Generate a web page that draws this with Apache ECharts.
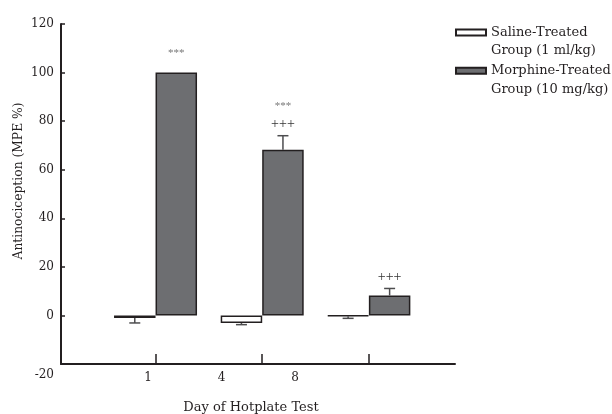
<!DOCTYPE html>
<html>
<head>
<meta charset="utf-8">
<script src="https://cdn.jsdelivr.net/npm/echarts@6/dist/echarts.min.js"></script>
<style>html,body{margin:0;padding:0;background:#fff;}#c{width:612px;height:414px;}</style>
</head>
<body>
<div id="c"></div>
<script>
// ---- data ----
var categories = ['1', '4', '8'];           // groups (days)
var dayTickLabels = ['1', '4', '8'];        // x tick labels as printed
var salineMean = [-1.1, -3.1, -0.3];
var salineErr  = [2.0, 0.7, 0.9];
var morphineMean = [100, 68.2, 8.2];
var morphineErr  = [0, 5.8, 2.9];
var starMarks = ['***', '***', ''];
var plusMarks = ['', '+++', '+++'];
var seriesNames = ['Saline-Treated\nGroup (1 ml/kg)', 'Morphine-Treated\nGroup (10 mg/kg)'];
var yMin = -20, yMax = 120, yStep = 20;

var FONT = 'DejaVu Serif';
var FS = 12;
var INK = '#231f20';
var BAR_W = 41.5;

var errRows = [];
for (var i = 0; i < categories.length; i++) {
  errRows.push([i, salineMean[i], salineErr[i], -1, '', '']);
  errRows.push([i, morphineMean[i], morphineErr[i], 1, starMarks[i], plusMarks[i]]);
}

var chart = echarts.init(document.getElementById('c'), null, {renderer: 'canvas'});
var option = {
  animation: false,
  textStyle: {fontFamily: FONT},
  grid: [
    {left: 102.2, right: 189.8, top: 24, bottom: 50, outerBoundsMode: 'none', containLabel: false},
    {left: 61, right: 157, top: 24, bottom: 50, outerBoundsMode: 'none', containLabel: false},
    {left: 148, right: 317, top: 24, bottom: 50, outerBoundsMode: 'none', containLabel: false}
  ],
  legend: {
    orient: 'vertical',
    left: 455, top: 5, padding: 0,
    itemWidth: 30, itemHeight: 6, itemGap: -16.5,
    icon: 'rect',
    formatter: function (name) { return '\n' + name; },
    textStyle: {fontFamily: FONT, fontSize: 13, color: INK, lineHeight: 18.3},
    data: seriesNames
  },
  xAxis: [
    {type: 'category', gridIndex: 0, data: categories,
     axisLine: {show: false, onZero: false},
     axisTick: {show: true, inside: true, length: 10, alignWithLabel: true, lineStyle: {color: INK, width: 1.5}},
     axisLabel: {show: false}, splitLine: {show: false}},
    {type: 'value', gridIndex: 1, min: 0, max: 1,
     axisLine: {show: true, onZero: false, lineStyle: {color: INK, width: 2}},
     axisTick: {show: false}, axisLabel: {show: false}, splitLine: {show: false},
     name: 'Day of Hotplate Test', nameLocation: 'middle', nameGap: 37,
     nameTextStyle: {fontFamily: FONT, fontSize: 13, color: INK, padding: [0, 14, 0, 0]}},
    {type: 'value', gridIndex: 2, min: 0, max: dayTickLabels.length - 1, interval: 1,
     axisLine: {show: false, onZero: false}, axisTick: {show: false}, splitLine: {show: false},
     axisLabel: {show: true, margin: 8, fontFamily: FONT, fontSize: FS, color: INK,
       formatter: function (v) { return dayTickLabels[Math.round(v)] || ''; }}}
  ],
  yAxis: [
    {type: 'value', gridIndex: 0, min: yMin, max: yMax, interval: yStep, offset: 41.2,
     axisLine: {show: true, onZero: false, lineStyle: {color: INK, width: 2}},
     axisTick: {show: true, inside: true, length: 4, lineStyle: {color: INK, width: 1.5}},
     axisLabel: {margin: 7, fontFamily: FONT, fontSize: FS, color: INK,
       formatter: function (v) { return v === yMin ? '{low|' + v + '}' : String(v); },
       rich: {low: {fontFamily: FONT, fontSize: FS, color: INK, padding: [22, 0, 0, 0]}}},
     splitLine: {show: false},
     name: 'Antinociception (MPE %)', nameLocation: 'middle', nameGap: 36, nameRotate: 90,
     nameMoveOverlap: false,
     nameTextStyle: {fontFamily: FONT, fontSize: 12.3, color: INK, padding: [0, 0, 0, 26]}},
    {type: 'value', gridIndex: 1, min: yMin, max: yMax, show: false},
    {type: 'value', gridIndex: 2, min: yMin, max: yMax, show: false}
  ],
  series: [
    {name: seriesNames[0], type: 'bar', xAxisIndex: 0, yAxisIndex: 0,
     data: salineMean, barWidth: BAR_W, barGap: '0%',
     itemStyle: {color: '#ffffff', borderColor: INK, borderWidth: 1.5}},
    {name: seriesNames[1], type: 'bar', xAxisIndex: 0, yAxisIndex: 0,
     data: morphineMean, barWidth: BAR_W, barGap: '0%',
     itemStyle: {color: '#6d6e71', borderColor: INK, borderWidth: 1.5}},
    {type: 'custom', xAxisIndex: 0, yAxisIndex: 0, data: errRows, z: 5,
     renderItem: function (params, api) {
       var cat = api.value(0), mean = api.value(1), err = api.value(2), side = api.value(3);
       var stars = errRows[params.dataIndex][4], plus = errRows[params.dataIndex][5];
       var dir = mean < 0 ? -1 : 1;
       var p0 = api.coord([cat, mean]);
       var p1 = api.coord([cat, mean + dir * err]);
       var x = p0[0] + side * BAR_W / 2;
       var children = [];
       if (err > 0) {
         children.push({type: 'line', shape: {x1: x, y1: p0[1], x2: x, y2: p1[1]},
           style: {stroke: '#4d4d4f', lineWidth: 1.5}});
         children.push({type: 'line', shape: {x1: x - 5.5, y1: p1[1], x2: x + 5.5, y2: p1[1]},
           style: {stroke: '#4d4d4f', lineWidth: 1.5}});
       }
       var y = p1[1];
       if (plus) {
         y = y - 11;
         children.push({type: 'text', style: {text: plus, x: x, y: y, align: 'center', verticalAlign: 'middle',
           fontFamily: 'Liberation Serif', fontSize: 14, fill: '#333'}});
       }
       if (stars) {
         y = y - 19;
         children.push({type: 'text', style: {text: stars, x: x, y: y, align: 'center', verticalAlign: 'middle',
           fontFamily: 'Liberation Serif', fontSize: 11, fill: '#777'}});
       }
       return {type: 'group', children: children};
     }}
  ]
};
chart.setOption(option);
</script>
</body>
</html>
